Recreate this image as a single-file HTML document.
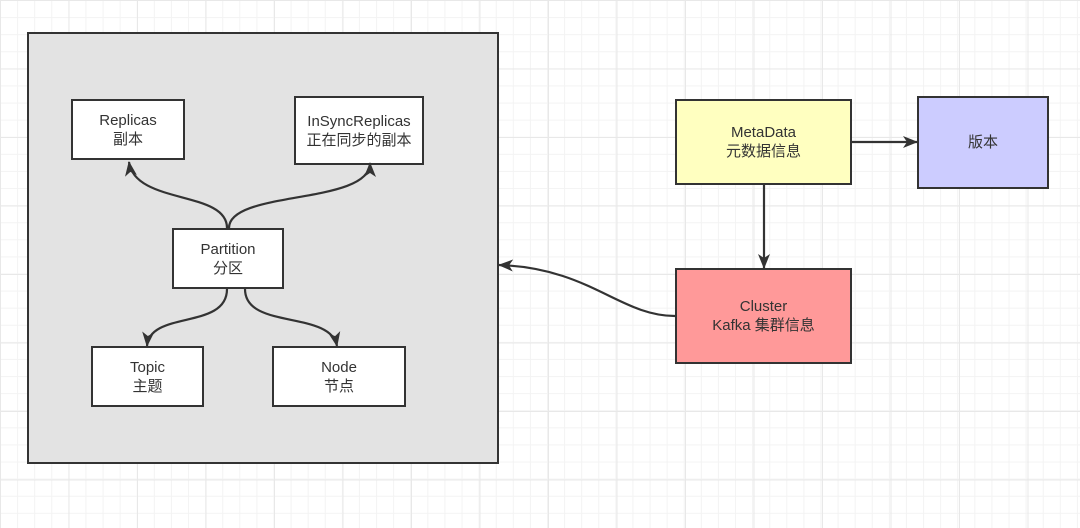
<!DOCTYPE html>
<html><head><meta charset="utf-8"><style>
body{margin:0;width:1080px;height:528px;overflow:hidden;background:#fff;
background-image:linear-gradient(#e8e8e8 1px,transparent 1px),linear-gradient(90deg,#e8e8e8 1px,transparent 1px),linear-gradient(#f3f3f3 1px,transparent 1px),linear-gradient(90deg,#f3f3f3 1px,transparent 1px);
background-size:68.5px 68.5px,68.5px 68.5px,17.1px 17.1px,17.1px 17.1px;background-position:0 0;}
.b{position:absolute;box-sizing:border-box;border:2px solid #333;background:#fff;display:flex;align-items:center;justify-content:center;text-align:center;font-family:"Liberation Sans","Noto Sans CJK SC",sans-serif;font-size:15px;line-height:19px;color:#333}
</style></head><body>
<div class="b" style="left:27px;top:32px;width:472px;height:432px;background:#e3e3e3;border-width:2.5px"></div>
<div class="b" style="left:71px;top:99px;width:114px;height:61px">Replicas<br>副本</div>
<div class="b" style="left:294px;top:96px;width:130px;height:69px">InSyncReplicas<br>正在同步的副本</div>
<div class="b" style="left:172px;top:228px;width:112px;height:61px">Partition<br>分区</div>
<div class="b" style="left:91px;top:346px;width:113px;height:61px">Topic<br>主题</div>
<div class="b" style="left:272px;top:346px;width:134px;height:61px">Node<br>节点</div>
<div class="b" style="left:675px;top:99px;width:177px;height:86px;background:#ffffc0">MetaData<br>元数据信息</div>
<div class="b" style="left:917px;top:96px;width:132px;height:93px;background:#ccccff">版本</div>
<div class="b" style="left:675px;top:268px;width:177px;height:96px;background:#ff9999">Cluster<br>Kafka 集群信息</div>
<svg width="1080" height="528" style="position:absolute;left:0;top:0">
<defs><marker id="a" markerWidth="16" markerHeight="14" refX="14" refY="7" orient="auto" markerUnits="userSpaceOnUse"><path d="M0,1L15,7L0,13L4,7z" fill="#333"/></marker></defs>
<g stroke="#333" stroke-width="2.2" fill="none" marker-end="url(#a)">
<path d="M227,228 C227,190 135,205 129,162"/>
<path d="M229,228 C229,190 370,205 370,163"/>
<path d="M227,289 C227,330 150,310 147,346"/>
<path d="M245,289 C245,330 330,310 337,346"/>
<path d="M852,142 L917,142"/>
<path d="M764,185 L764,268"/>
<path d="M675,316 C620,316 590,268 499,265"/>
</g></svg>
</body></html>
